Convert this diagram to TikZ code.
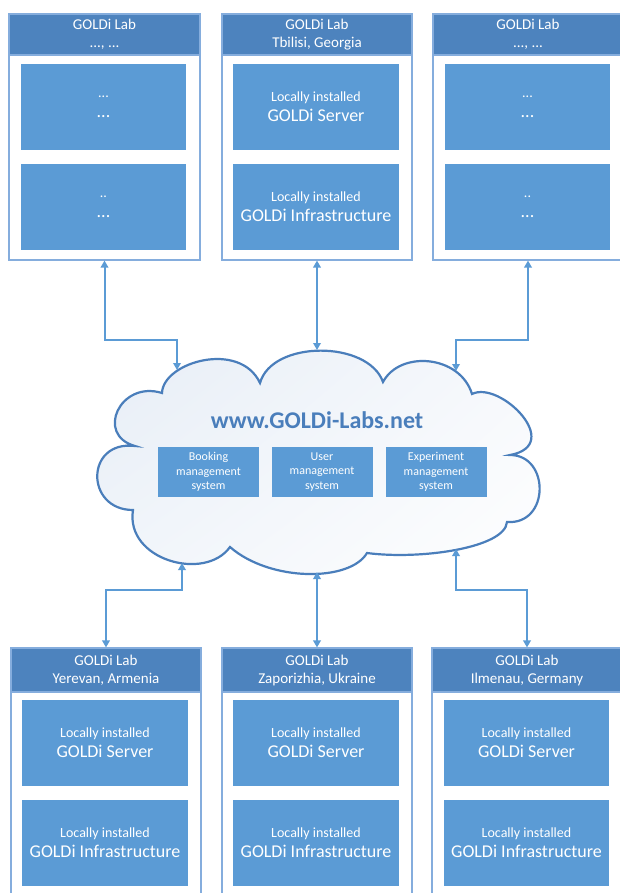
\documentclass[tikz,border=0pt]{standalone}
\usepackage{fontspec}
\setmainfont{Carlito}
\usetikzlibrary{arrows.meta,shadings}
\definecolor{hdr}{HTML}{4D83BE}
\definecolor{inbox}{HTML}{5B9BD5}
\definecolor{framec}{HTML}{85ADDD}
\definecolor{connc}{HTML}{5B9BD5}
\definecolor{cloudline}{HTML}{4A7EBB}
\definecolor{titlec}{HTML}{4A7EBB}
\definecolor{cul}{HTML}{E6EDF6}
\definecolor{cur}{HTML}{F7F9FC}
\definecolor{cll}{HTML}{F1F5FA}
\newcommand\twoln[2]{#1\\{\fontsize{18}{22}\selectfont #2}}
\tikzset{
 outerbox/.style={draw=framec, line width=1.1pt, fill=white, inner sep=0pt},
 hdrbox/.style={fill=hdr, draw=framec, line width=1.1pt, text=white, align=center, inner sep=0pt, font=\fontsize{15}{18}\selectfont},
 innerbox/.style={fill=inbox, text=white, align=center, inner sep=0pt, minimum height=86pt, font=\fontsize{14}{20}\selectfont},
 sysbox/.style={fill=inbox, text=white, align=center, inner sep=0pt, minimum width=101pt, minimum height=50pt, font=\fontsize{12}{14.4}\selectfont},
 linkarrow/.style={draw=connc, line width=2pt, {Triangle[length=7pt,width=7.5pt]}-{Triangle[length=7pt,width=7.5pt]}},
}
\begin{document}
\begin{tikzpicture}[x=1pt,y=-1pt]
\useasboundingbox (0,0) rectangle (620,893);
\clip (0,0) rectangle (620,893);
\fill[white] (0,0) rectangle (620,893);

% ---------- top row ----------
\node[outerbox, minimum width=191pt, minimum height=246pt] (L1) at (104.5,137) {};
\node[hdrbox, minimum width=191pt, minimum height=41pt] (H1) at (104.5,34.5) {GOLDi Lab\\..., ...};
\node[innerbox, minimum width=165pt] (A1) at (103.5,107) {\twoln{...}{...}};
\node[innerbox, minimum width=165pt] (B1) at (103.5,207) {\twoln{..}{...}};

\node[outerbox, minimum width=190pt, minimum height=246pt] (L2) at (317,137) {};
\node[hdrbox, minimum width=190pt, minimum height=41pt] (H2) at (317,34.5) {GOLDi Lab\\Tbilisi, Georgia};
\node[innerbox, minimum width=166pt] (A2) at (316,107) {\twoln{Locally installed}{GOLDi Server}};
\node[innerbox, minimum width=166pt] (B2) at (316,207) {\twoln{Locally installed}{GOLDi Infrastructure}};

\node[outerbox, minimum width=190pt, minimum height=246pt] (L3) at (528,137) {};
\node[hdrbox, minimum width=190pt, minimum height=41pt] (H3) at (528,34.5) {GOLDi Lab\\..., ...};
\node[innerbox, minimum width=165pt] (A3) at (527.5,107) {\twoln{...}{...}};
\node[innerbox, minimum width=165pt] (B3) at (527.5,207) {\twoln{..}{...}};

% ---------- bottom row ----------
\node[outerbox, minimum width=190pt, minimum height=257pt] (L4) at (106,776.5) {};
\node[hdrbox, minimum width=190pt, minimum height=44pt] (H4) at (106,670) {GOLDi Lab\\Yerevan, Armenia};
\node[innerbox, minimum width=166pt] (A4) at (105,743) {\twoln{Locally installed}{GOLDi Server}};
\node[innerbox, minimum width=166pt] (B4) at (105,843) {\twoln{Locally installed}{GOLDi Infrastructure}};

\node[outerbox, minimum width=190pt, minimum height=257pt] (L5) at (317,776.5) {};
\node[hdrbox, minimum width=190pt, minimum height=44pt] (H5) at (317,670) {GOLDi Lab\\Zaporizhia, Ukraine};
\node[innerbox, minimum width=166pt] (A5) at (316,743) {\twoln{Locally installed}{GOLDi Server}};
\node[innerbox, minimum width=166pt] (B5) at (316,843) {\twoln{Locally installed}{GOLDi Infrastructure}};

\node[outerbox, minimum width=190pt, minimum height=257pt] (L6) at (527,776.5) {};
\node[hdrbox, minimum width=190pt, minimum height=44pt] (H6) at (527,670) {GOLDi Lab\\Ilmenau, Germany};
\node[innerbox, minimum width=165pt] (A6) at (526.5,743) {\twoln{Locally installed}{GOLDi Server}};
\node[innerbox, minimum width=165pt] (B6) at (526.5,843) {\twoln{Locally installed}{GOLDi Infrastructure}};

% ---------- cloud ----------
\path[draw=cloudline, line width=2.2pt, line join=miter,
      upper left=cul, upper right=cur, lower left=cll, lower right=white]
  (135,446)
  .. controls (95,435) and (120,380) .. (162,393)
  .. controls (163,362) and (240,340) .. (260,383)
  .. controls (272,340) and (368,340) .. (383,382)
  .. controls (400,350) and (460,355) .. (472,394)
  .. controls (500,380) and (565,445) .. (510,455)
  .. controls (550,455) and (550,525) .. (507,522)
  .. controls (505,548) and (420,560) .. (367,553)
  .. controls (350,582) and (270,582) .. (230,547)
  .. controls (205,582) and (125,560) .. (133,510)
  .. controls (85,510) and (85,440) .. (135,446) -- cycle;

\node[text=titlec, font=\fontsize{24}{28}\selectfont\bfseries] (title) at (317,420) {www.GOLDi-Labs.net};
\node[sysbox] (S1) at (208.5,472) {Booking\\management\\system};
\node[sysbox] (S2) at (322,472) {User\\management\\system};
\node[sysbox] (S3) at (436,472) {Experiment\\management\\system};

% ---------- connectors ----------
\coordinate (c1) at (177,370);
\coordinate (k1) at (177,340);
\coordinate (c2) at (317,350);
\coordinate (c3) at (456,371);
\coordinate (k3) at (456,340);
\coordinate (c4) at (182,563);
\coordinate (k4) at (182,590);
\coordinate (c5) at (317,572);
\coordinate (c6) at (456,549);
\coordinate (k6) at (456,590);

\draw[linkarrow] (L1.south) |- (k1) -- (c1);
\draw[linkarrow] (L2.south) -- (c2);
\draw[linkarrow] (L3.south) |- (k3) -- (c3);
\draw[linkarrow] (c4) -- (k4) -| (L4.north);
\draw[linkarrow] (c5) -- (L5.north);
\draw[linkarrow] (c6) -- (k6) -| (L6.north);
\end{tikzpicture}
\end{document}
